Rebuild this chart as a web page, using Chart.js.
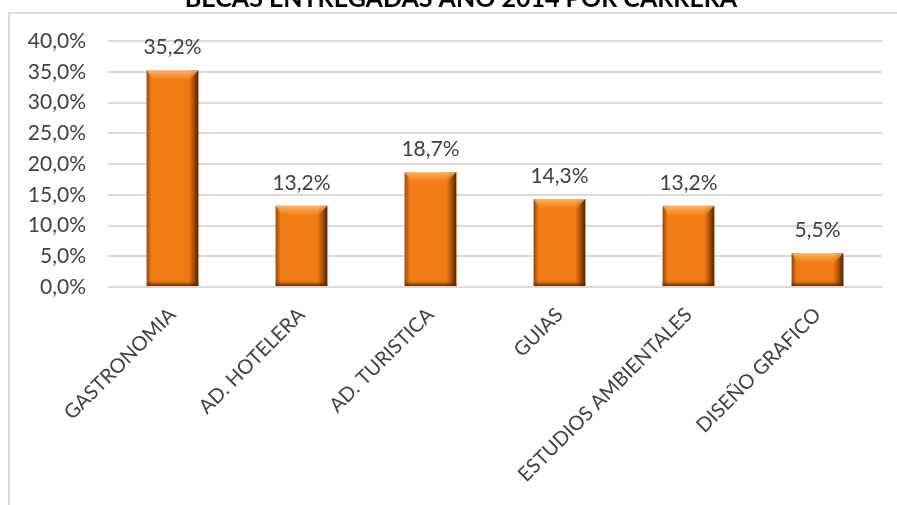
<!DOCTYPE html>
<html>
<head>
<meta charset="utf-8">
<script src="https://cdn.jsdelivr.net/npm/chart.js@4.4.1/dist/chart.umd.min.js"></script>
<style>
  html, body { margin: 0; padding: 0; background: #fff; overflow: hidden; }
  #page { position: relative; width: 897px; height: 505px; overflow: hidden; }
  #frame { position: absolute; left: 8px; top: 12px; right: -2px; bottom: -2px;
           border-left: 2px solid #d9d9d9; border-top: 2px solid #d9d9d9; }
  #wrap { position: absolute; left: 0; top: -20px; width: 897px; height: 525px; }
</style>
</head>
<body>
<div id="page">
  <div id="frame"></div>
  <div id="wrap"><canvas id="mychart"></canvas></div>
</div>
<script>
// datos del grafico
var titulo = 'BECAS ENTREGADAS AÑO 2014 POR CARRERA';
var carreras = ['GASTRONOMIA', 'AD. HOTELERA', 'AD. TURISTICA', 'GUIAS', 'ESTUDIOS AMBIENTALES', 'DISEÑO GRAFICO'];
var porcentajes = [35.2, 13.2, 18.7, 14.3, 13.2, 5.5];
var ejeMin = 0;
var ejeMax = 40;
var ejePaso = 5;

var fuente = 'Lato, "Open Sans", sans-serif';
var gris = '#404040';

function formato(v) {
  return v.toFixed(1).replace('.', ',') + '%';
}

// el titulo en el original esta un poco a la derecha del centro
var moverTitulo = {
  id: 'moverTitulo',
  afterLayout(chart) {
    if (chart.titleBlock) {
      chart.titleBlock.left += 20;
      chart.titleBlock.right += 20;
    }
  }
};

// efecto bisel de las barras de Excel
var bisel = {
  id: 'bisel',
  afterDatasetsDraw(chart) {
    var ctx = chart.ctx;
    chart.getDatasetMeta(0).data.forEach(function (bar) {
      var l = bar.x - bar.width / 2, r = bar.x + bar.width / 2;
      var t = bar.y, b = bar.base;
      var g;
      ctx.save();
      // lado derecho oscuro
      g = ctx.createLinearGradient(r - 10, 0, r, 0);
      g.addColorStop(0, 'rgba(110,45,0,0)');
      g.addColorStop(1, 'rgba(70,30,0,0.95)');
      ctx.fillStyle = g;
      ctx.fillRect(r - 10, t, 10, b - t);
      // lado izquierdo
      g = ctx.createLinearGradient(l, 0, l + 5, 0);
      g.addColorStop(0, 'rgba(140,55,0,0.8)');
      g.addColorStop(1, 'rgba(140,55,0,0)');
      ctx.fillStyle = g;
      ctx.fillRect(l, t, 5, b - t);
      // borde superior claro
      g = ctx.createLinearGradient(0, t, 0, t + 10);
      g.addColorStop(0, 'rgba(255,200,130,0.8)');
      g.addColorStop(1, 'rgba(255,170,80,0)');
      ctx.fillStyle = g;
      ctx.beginPath();
      ctx.moveTo(l, t);
      ctx.lineTo(r, t);
      ctx.lineTo(r - 9, t + 10);
      ctx.lineTo(l + 6, t + 10);
      ctx.closePath();
      ctx.fill();
      // borde inferior oscuro
      g = ctx.createLinearGradient(0, b - 5, 0, b);
      g.addColorStop(0, 'rgba(90,35,0,0)');
      g.addColorStop(1, 'rgba(90,35,0,0.85)');
      ctx.fillStyle = g;
      ctx.fillRect(l, b - 5, r - l, 5);
      ctx.restore();
    });
  }
};

// etiquetas de valor sobre las barras
var etiquetas = {
  id: 'etiquetas',
  afterDatasetsDraw(chart) {
    var ctx = chart.ctx;
    ctx.save();
    ctx.font = '21px ' + fuente;
    ctx.fillStyle = gris;
    ctx.textAlign = 'center';
    ctx.textBaseline = 'middle';
    chart.getDatasetMeta(0).data.forEach(function (bar, i) {
      ctx.fillText(formato(porcentajes[i]), bar.x, bar.y - 23);
    });
    ctx.restore();
  }
};

new Chart(document.getElementById('mychart'), {
  type: 'bar',
  data: {
    labels: carreras,
    datasets: [{
      data: porcentajes,
      backgroundColor: '#F27C14',
      borderWidth: 0,
      categoryPercentage: 1,
      barPercentage: 0.4
    }]
  },
  options: {
    responsive: true,
    maintainAspectRatio: false,
    animation: false,
    layout: { padding: { left: 0, right: 15, top: 0, bottom: 0 } },
    plugins: {
      legend: { display: false },
      tooltip: { enabled: false },
      title: {
        display: true,
        text: titulo,
        color: '#000',
        font: { family: fuente, size: 25, weight: 'bold' },
        padding: { top: 4, bottom: 27 }
      }
    },
    scales: {
      x: {
        grid: { display: false },
        border: { display: false },
        ticks: {
          color: gris,
          font: { family: fuente, size: 20 },
          maxRotation: 45,
          minRotation: 45,
          padding: 8,
          autoSkip: false
        },
        afterFit(scale) { scale.height = 218; }
      },
      y: {
        min: ejeMin,
        max: ejeMax,
        grid: { color: '#d9d9d9', lineWidth: 2, drawTicks: false },
        border: { display: false },
        ticks: {
          stepSize: ejePaso,
          color: gris,
          padding: 22,
          font: { family: fuente, size: 21 },
          callback: function (v) { return formato(v); }
        },
        afterFit(scale) { scale.width = 108; }
      }
    }
  },
  plugins: [moverTitulo, bisel, etiquetas]
});
</script>
</body>
</html>
